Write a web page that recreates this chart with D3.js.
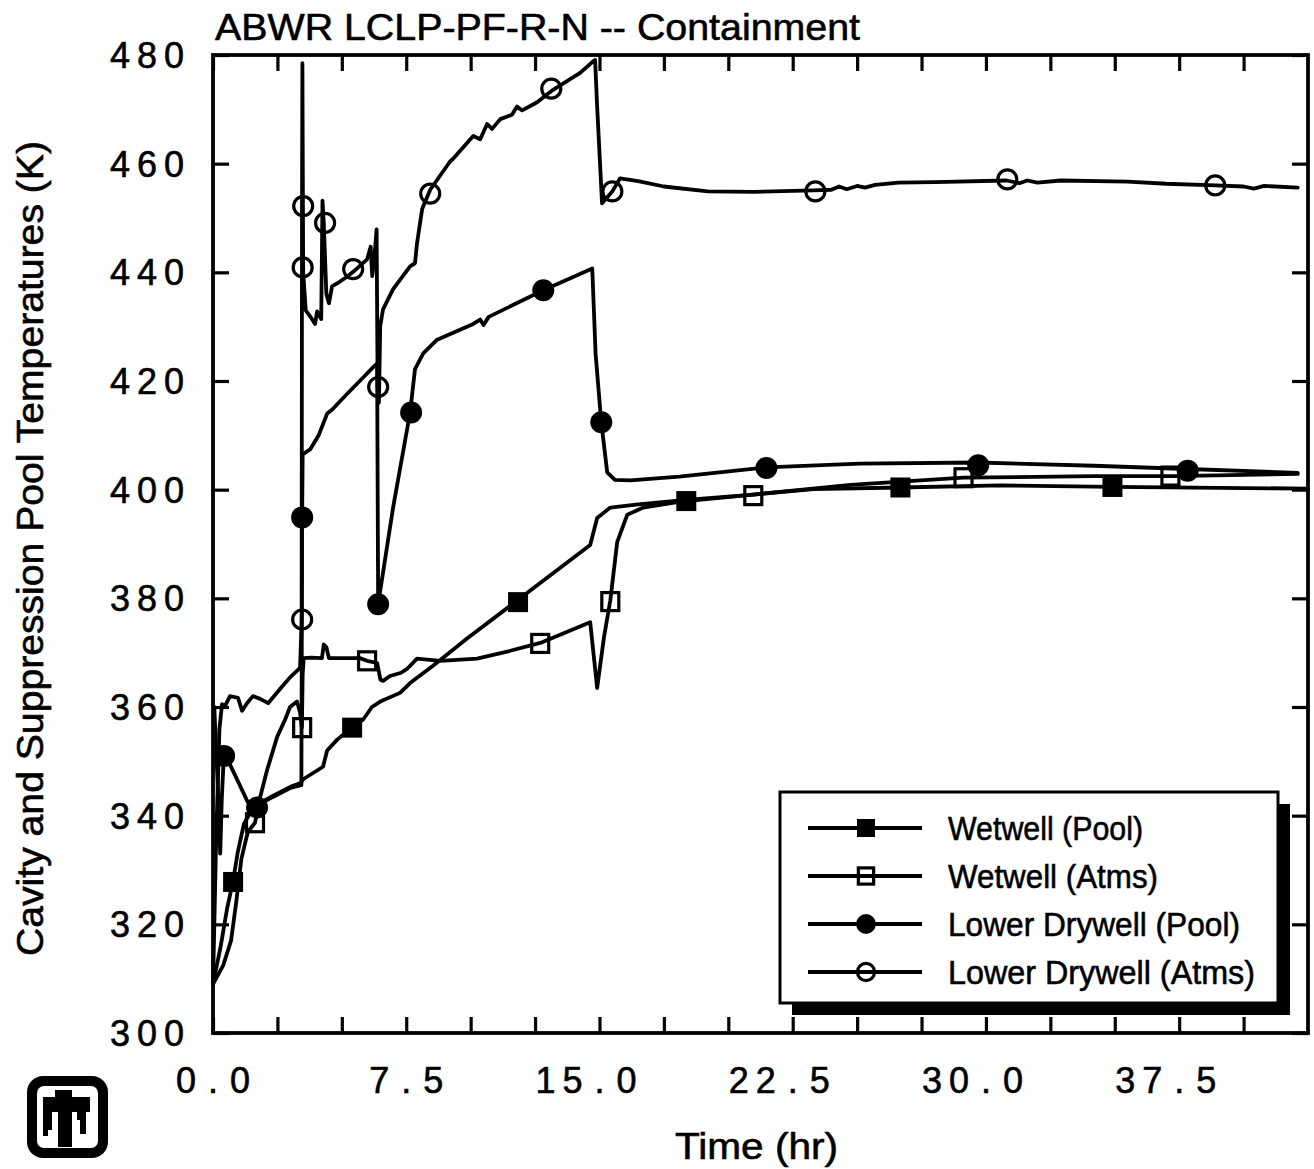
<!DOCTYPE html>
<html><head><meta charset="utf-8">
<script src="https://cdn.jsdelivr.net/npm/d3@7/dist/d3.min.js"></script>
<style>body{margin:0;background:#fff}svg{display:block}text{font-family:"Liberation Sans",Arial,sans-serif;fill:#000;stroke:#000;stroke-width:0.6px}</style>
</head><body>
<svg id="c" width="1314" height="1169"></svg>
<script>
// ---------- data (time in hr, temperature in K) ----------
const titleText = "ABWR  LCLP-PF-R-N  --  Containment";
const xLabel = "Time (hr)";
const yLabel = "Cavity and Suppression Pool Temperatures (K)";
const seriesNames = ["Wetwell (Pool)", "Wetwell (Atms)", "Lower Drywell (Pool)", "Lower Drywell (Atms)"];
const xTickValues = [0,2.5,5,7.5,10,12.5,15,17.5,20,22.5,25,27.5,30,32.5,35,37.5,40];
const xTickLabels = ["0.0","7.5","15.0","22.5","30.0","37.5"];
const xTickLabelValues = [0,7.5,15,22.5,30,37.5];
const yTickValues = [300,320,340,360,380,400,420,440,460,480];

const wwPool = [[0,309],[0.3,316],[0.55,323],[0.78,328],[0.95,333],[1.2,338.5],[1.5,341],[1.71,342],[2.3,343.6],[3.0,345.3],[3.4,346],[3.5,346.7],[4.27,349],[4.43,352],[4.82,354],[5.44,356.4],[5.83,357.7],[6.17,360],[6.49,361],[7.26,362.6],[7.65,364.4],[8.54,367.6],[9.86,372.6],[11.92,380],[14.64,389.8],[14.91,394.8],[15.42,396.7],[16.5,397.3],[18.37,398.1],[20.97,399.1],[23.3,400.1],[26.68,400.4],[30.56,400.8],[34.91,400.5],[42.5,400.2]];
const wwAtms = [[0,309],[0.4,312.5],[0.7,317],[0.9,324],[1.1,332],[1.35,337],[1.63,338.7],[1.83,343.4],[2.1,348.4],[2.49,354.5],[2.8,357.7],[2.99,360],[3.26,361],[3.38,359],[3.45,356.2],[3.48,366],[3.52,369],[3.8,369.1],[4.23,369],[4.3,371.5],[4.4,371],[4.5,369],[4.62,369],[5.7,369],[5.98,368.5],[6.37,368.1],[6.5,365],[6.6,364.8],[6.87,365.7],[7.3,366.3],[7.53,367],[7.92,368.9],[8.82,368.5],[10.25,368.9],[11.5,370.3],[12.7,371.8],[14.64,375.6],[14.91,363.5],[15.18,373],[15.42,379.6],[15.69,390.4],[16.08,395.4],[16.7,396.7],[18.14,397.8],[20.97,399.1],[24.74,400.9],[29.13,402.2],[34.17,402.5],[37.28,402.5],[42.1,402.9]];
const ldPool = [[0.05,360],[0.18,346],[0.28,333],[0.34,343],[0.42,351],[0.6,350],[0.85,347.5],[1.1,345],[1.35,342.5],[1.71,341.8],[2.3,343.4],[3.0,345.1],[3.43,345.6],[3.46,395],[3.48,406.5],[3.77,407.4],[4.1,410],[4.43,414],[4.62,414.7],[5.2,417.6],[5.8,420.5],[6.21,422.5],[6.37,423.2],[6.41,378.9],[6.99,396.7],[7.65,414.2],[7.84,422.2],[8.16,425.1],[8.7,427.6],[10.1,430.5],[10.37,431.3],[10.5,430.3],[10.7,431.8],[12.82,436.7],[14.72,440.7],[14.85,425],[15.07,412.4],[15.3,403.2],[15.6,401.8],[16.2,401.7],[18.1,402.4],[21.5,404.1],[25.1,404.8],[29.7,405],[34.2,404.4],[37.8,403.8],[42.1,403.1]];
const ldAtms = [[0,309],[0.12,335],[0.25,356],[0.35,360.5],[0.47,360.2],[0.66,362],[0.97,361.7],[1.13,359.3],[1.32,360.7],[1.55,362],[1.83,361.5],[2.14,360.7],[2.6,363.3],[3.0,365.5],[3.38,367.2],[3.44,376],[3.455,452],[3.47,478.5],[3.5,440],[3.6,433],[3.77,431.9],[3.96,430.5],[4.04,432.8],[4.2,431.4],[4.25,453.2],[4.3,449],[4.4,436],[4.5,434.3],[4.62,437.4],[4.93,438.3],[5.2,439.2],[5.44,440.1],[5.98,442.4],[6.12,444.7],[6.18,439.3],[6.25,442],[6.35,447.9],[6.39,418.9],[6.44,416],[6.49,430.1],[6.6,433.2],[6.99,436.9],[7.65,441.1],[7.84,441.7],[7.92,445.4],[8.12,451.7],[8.43,455.2],[9.2,460.4],[9.32,460.9],[10.1,465.1],[10.37,464.5],[10.64,467.3],[10.83,466.4],[11.15,468.2],[11.6,469],[11.8,470.5],[12.0,469.8],[12.58,471.3],[13.2,473.6],[14.25,476.7],[14.72,478.7],[14.83,479.1],[14.91,470.5],[15.1,452.7],[15.5,454.9],[15.8,457.3],[16.5,456.8],[17.5,455.8],[19.2,454.9],[21,454.8],[23.3,455.1],[24,455.2],[24.3,455.8],[24.6,455.3],[25.0,455.9],[25.3,455.6],[25.7,456.1],[26.6,456.5],[28,456.6],[30.8,456.9],[31.3,456.4],[31.6,456.9],[32,456.5],[32.9,456.9],[35.5,456.7],[37,456.3],[38.9,456],[40,455.8],[40.4,455.4],[40.8,455.9],[42.1,455.6]];

const wwPoolMarks = [[0.78,327.8],[5.4,356.2],[11.84,379.3],[18.37,397.9],[26.68,400.4],[34.91,400.5]];
const wwAtmsMarks = [[1.63,338.7],[3.46,356.2],[5.98,368.5],[12.7,371.7],[15.42,379.4],[20.97,398.9],[29.13,402.2],[37.16,402.5]];
const ldPoolMarks = [[0.43,351],[1.71,341.5],[3.46,394.9],[6.41,378.9],[7.69,414.2],[12.82,436.7],[15.07,412.4],[21.48,404],[29.7,404.5],[37.83,403.5]];
const ldAtmsMarks = [[3.46,376.1],[3.48,440.9],[3.5,452.2],[4.35,449.1],[5.44,440.6],[6.41,418.9],[8.43,454.5],[13.13,473.8],[15.5,454.9],[23.38,454.9],[30.83,457.1],[38.9,456]];

// ---------- layout ----------
const L = 213, R = 1308, T = 55, B = 1033;
const svg = d3.select("#c");
const x = d3.scaleLinear().domain([0, 42.5]).range([L, R]);
const y = d3.scaleLinear().domain([300, 480]).range([B, T]);
const LW = 3.8;

const series = [
  {name: seriesNames[0], data: wwPool, marks: wwPoolMarks, type: "sqFill"},
  {name: seriesNames[1], data: wwAtms, marks: wwAtmsMarks, type: "sqOpen"},
  {name: seriesNames[2], data: ldPool, marks: ldPoolMarks, type: "ciFill"},
  {name: seriesNames[3], data: ldAtms, marks: ldAtmsMarks, type: "ciOpen"}
];

function marker(g, type, cx, cy, s) {
  s = s || 1;
  if (type === "sqFill") g.append("rect").attr("x", cx-10*s).attr("y", cy-10*s).attr("width", 20*s).attr("height", 20*s).attr("fill", "#000");
  else if (type === "sqOpen") g.append("rect").attr("x", cx-8.5*s).attr("y", cy-9*s).attr("width", 17*s).attr("height", 18*s).attr("fill", "none").attr("stroke", "#000").attr("stroke-width", 3.2);
  else if (type === "ciFill") g.append("circle").attr("cx", cx).attr("cy", cy).attr("r", 11*s).attr("fill", "#000");
  else g.append("circle").attr("cx", cx).attr("cy", cy).attr("r", 9.5*s).attr("fill", "none").attr("stroke", "#000").attr("stroke-width", 3.2);
}

// curves
const line = d3.line().x(d => x(d[0])).y(d => y(d[1]));
series.forEach(s => {
  svg.append("path").datum(s.data).attr("d", line).attr("fill", "none")
    .attr("stroke", "#000").attr("stroke-width", LW).attr("stroke-linejoin", "round").attr("stroke-linecap", "round");
});
series.forEach(s => {
  const g = svg.append("g");
  s.marks.forEach(m => marker(g, s.type, x(m[0]), y(m[1])));
});

// axes (ticks inward on all four sides)
const tl = 16;
svg.append("g").attr("transform", `translate(0,${B})`)
  .call(d3.axisBottom(x).tickValues(xTickValues).tickSize(-tl).tickFormat(""));
svg.append("g").attr("transform", `translate(0,${T})`)
  .call(d3.axisTop(x).tickValues(xTickValues).tickSize(-tl).tickFormat(""));
svg.append("g").attr("transform", `translate(${L},0)`)
  .call(d3.axisLeft(y).tickValues(yTickValues).tickSize(-tl).tickFormat(""));
svg.append("g").attr("transform", `translate(${R},0)`)
  .call(d3.axisRight(y).tickValues(yTickValues).tickSize(-tl).tickFormat(""));
svg.selectAll(".domain").remove();
svg.selectAll(".tick line").attr("stroke", "#000").attr("stroke-width", 3.2);
svg.append("rect").attr("x", L).attr("y", T).attr("width", R-L).attr("height", B-T)
  .attr("fill", "none").attr("stroke", "#000").attr("stroke-width", LW);

// tick labels (monospaced cells)
const ADV = 27, FS = 36;
xTickLabelValues.forEach((v, i) => {
  const s = xTickLabels[i], k = s.indexOf(".");
  for (let j = 0; j < s.length; j++) {
    svg.append("text").attr("x", x(v) + (j-k)*ADV).attr("y", 1093)
      .attr("text-anchor", "middle").attr("font-size", FS).text(s[j]);
  }
});
yTickValues.forEach(v => {
  const s = String(v);
  for (let j = 0; j < s.length; j++) {
    svg.append("text").attr("x", 174 - (s.length-1-j)*ADV).attr("y", y(v) + 13)
      .attr("text-anchor", "middle").attr("font-size", FS).text(s[j]);
  }
});

// title and axis titles
svg.append("text").attr("x", 215).attr("y", 40).attr("font-size", 37)
  .attr("textLength", 645).attr("lengthAdjust", "spacingAndGlyphs").text(titleText);
svg.append("text").attr("x", 675).attr("y", 1159).attr("font-size", 37)
  .attr("textLength", 163).attr("lengthAdjust", "spacingAndGlyphs").text(xLabel);
svg.append("text").attr("transform", "translate(43,956) rotate(-90)").attr("font-size", 36)
  .attr("textLength", 815).attr("lengthAdjust", "spacingAndGlyphs").text(yLabel);

// legend
const lg = svg.append("g");
lg.append("rect").attr("x", 792).attr("y", 804).attr("width", 498).attr("height", 211).attr("fill", "#000");
lg.append("rect").attr("x", 780).attr("y", 792).attr("width", 498).attr("height", 211)
  .attr("fill", "#fff").attr("stroke", "#000").attr("stroke-width", 3);
const rowY = [828, 876, 924, 972];
const textW = [195, 210, 292, 307];
series.forEach((s, i) => {
  lg.append("line").attr("x1", 808).attr("x2", 922).attr("y1", rowY[i]).attr("y2", rowY[i])
    .attr("stroke", "#000").attr("stroke-width", LW);
  marker(lg, s.type, 866, rowY[i], 0.9);
  lg.append("text").attr("x", 948).attr("y", rowY[i] + 12).attr("font-size", 34)
    .attr("textLength", textW[i]).attr("lengthAdjust", "spacingAndGlyphs").text(s.name);
});

// logo
const lo = svg.append("g");
lo.append("rect").attr("x", 27).attr("y", 1076).attr("width", 81).attr("height", 82).attr("rx", 16).attr("fill", "#000");
lo.append("rect").attr("x", 37).attr("y", 1086).attr("width", 61).attr("height", 62).attr("rx", 7).attr("fill", "#fff");
lo.append("path").attr("fill", "#000").attr("d",
  "M55,1090 H72 V1097 H90 V1112 H86 V1134 H80 V1120 H77 V1112 H72 V1147 H58 V1112 H52 V1130 H48 V1136 H43 V1097 H55 Z");
</script>
</body></html>
